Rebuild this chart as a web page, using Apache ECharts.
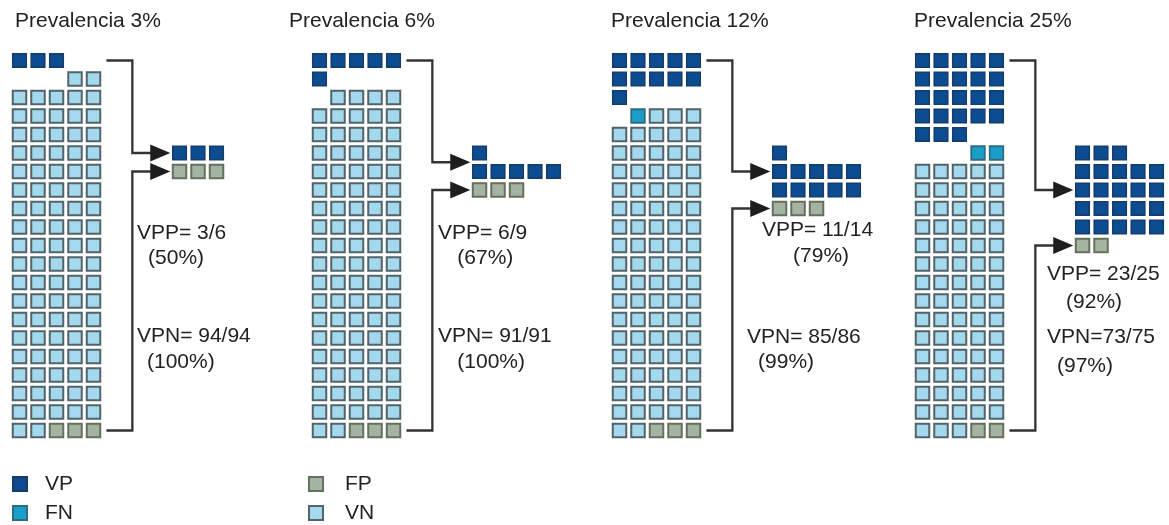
<!DOCTYPE html>
<html><head><meta charset="utf-8">
<script src="https://cdn.jsdelivr.net/npm/echarts@6/dist/echarts.min.js"></script>
<style>html,body{margin:0;padding:0;background:#fff}#c{width:1169px;height:525px}</style>
</head><body><div id="c"></div>
<script>
// ---- data ----
const categories = ['Prevalencia 3%', 'Prevalencia 6%', 'Prevalencia 12%', 'Prevalencia 25%'];
const vp = [3, 6, 11, 23];   // verdaderos positivos
const fn = [0, 0, 1, 2];     // falsos negativos
const fp = [3, 3, 3, 2];     // falsos positivos
const vn = [94, 91, 85, 73]; // verdaderos negativos
const vppLabels = ['VPP= 3/6', 'VPP= 6/9', 'VPP= 11/14', 'VPP= 23/25'];
const vppPct = ['(50%)', '(67%)', '(79%)', '(92%)'];
const vpnLabels = ['VPN= 94/94', 'VPN= 91/91', 'VPN= 85/86', 'VPN=73/75'];
const vpnPct = ['(100%)', '(100%)', '(99%)', '(97%)'];
const legendNames = ['VP', 'FN', 'FP', 'VN'];

// ---- layout / style ----
const PITCH = 18.5;
const COL0 = [19.5, 319.5, 619.5, 922.5];
const ROW0 = 60.5;
const GX = 8.65, GROUP_ROW0 = 5;
const X_START = 4.7, X_VERT = 6.1, X_TIP = 8.15;
const TITLE_LEFT = [15, 289, 611, 914];
const TEXT_POS = [
  [[6.35, 9.32], [6.95, 10.68], [6.35, 14.9], [6.89, 16.3]],
  [[6.4, 9.32], [7.45, 10.7], [6.4, 14.9], [7.45, 16.3]],
  [[7.7, 9.16], [9.38, 10.57], [6.89, 14.95], [7.49, 16.3]],
  [[6.73, 11.54], [7.76, 13.05], [6.73, 14.95], [7.27, 16.51]]
];
const STYLE = {
  VP: {color: '#0c4d92', borderColor: '#163c6c', borderWidth: 1.6, opacity: 1},
  FN: {color: '#1a9fca', borderColor: '#2c6b82', borderWidth: 1.8, opacity: 1},
  FP: {color: '#a5b4a2', borderColor: '#65705f', borderWidth: 2, opacity: 1},
  VN: {color: '#a3d8ed', borderColor: '#52636a', borderWidth: 2, opacity: 1}
};
const FONT = '"Liberation Sans", Arial, sans-serif';
const TXT = '#222';

const grids = [], xAxes = [], yAxes = [], series = [], titles = [];
categories.forEach((cat, i) => {
  grids.push({left: COL0[i] - PITCH / 2, top: ROW0 - PITCH / 2, width: 13.5 * PITCH, height: 25 * PITCH});
  xAxes.push({type: 'value', gridIndex: i, min: -0.5, max: 13, show: false});
  yAxes.push({type: 'value', gridIndex: i, min: -0.5, max: 24.5, inverse: true, show: false});
  titles.push({text: cat, left: TITLE_LEFT[i], top: 11, padding: 0,
    textStyle: {fontFamily: FONT, fontSize: 21, fontWeight: 'normal', color: TXT}});

  const cells = {VP: [], FN: [], FP: [], VN: []};
  const total = vp[i] + fn[i] + vn[i] + fp[i];
  for (let k = 0; k < total; k++) {
    const c = k < vp[i] ? 'VP' : k < vp[i] + fn[i] ? 'FN' : k < vp[i] + fn[i] + vn[i] ? 'VN' : 'FP';
    cells[c].push([k % 5, Math.floor(k / 5) + (k >= vp[i] ? 1 : 0)]);
  }
  const lastRow = Math.floor((total - 1) / 5) + 1;
  // grouped positives on the right
  let r = GROUP_ROW0;
  const rem = vp[i] % 5, full = Math.floor(vp[i] / 5);
  if (rem) { for (let j = 0; j < rem; j++) cells.VP.push([GX + j, r]); r++; }
  for (let f = 0; f < full; f++) { for (let j = 0; j < 5; j++) cells.VP.push([GX + j, r]); r++; }
  const vpCenter = (GROUP_ROW0 + r - 1) / 2;
  const fpRow = r;
  for (let j = 0; j < fp[i]; j++) cells.FP.push([GX + j, fpRow]);

  legendNames.forEach(name => {
    series.push({type: 'scatter', name, xAxisIndex: i, yAxisIndex: i, symbol: 'rect', symbolSize: 13.5,
      data: cells[name], itemStyle: STYLE[name], silent: true, animation: false, z: 3});
  });

  // connectors with arrows
  series.push({type: 'custom', xAxisIndex: i, yAxisIndex: i, silent: true, animation: false, clip: false, z: 2,
    data: [[0, vpCenter], [lastRow, fpRow]],
    renderItem: (params, api) => {
      const a = api.value(0), b = api.value(1);
      const p0 = api.coord([X_START, a]), p1 = api.coord([X_VERT, a]);
      const p2 = api.coord([X_VERT, b]), p3 = api.coord([X_TIP, b]);
      const L = 20, H = 8.5;
      return {type: 'group', children: [
        {type: 'polyline', shape: {points: [p0, p1, p2, [p3[0] - L + 1, p3[1]]]},
          style: {stroke: '#333', lineWidth: 2.3, fill: null}},
        {type: 'polygon', shape: {points: [[p3[0], p3[1]], [p3[0] - L, p3[1] - H], [p3[0] - L, p3[1] + H]]},
          style: {fill: '#1e1e1e'}}
      ]};
    }
  });

  // annotation texts
  const texts = [vppLabels[i], vppPct[i], vpnLabels[i], vpnPct[i]];
  series.push({type: 'custom', xAxisIndex: i, yAxisIndex: i, silent: true, animation: false, clip: false, z: 4,
    data: TEXT_POS[i].map((p, k) => [p[0], p[1], k]),
    renderItem: (params, api) => {
      const p = api.coord([api.value(0), api.value(1)]);
      return {type: 'text', x: p[0], y: p[1],
        style: {text: texts[api.value(2)], font: '21px ' + FONT, fill: TXT, verticalAlign: 'middle', align: 'left'}};
    }
  });
});

const chart = echarts.init(document.getElementById('c'), null, {renderer: 'canvas'});
chart.setOption({
  backgroundColor: '#fff',
  animation: false,
  title: titles,
  grid: grids, xAxis: xAxes, yAxis: yAxes,
  legend: [
    {data: ['VP', 'FN'], left: 12, top: 473, orient: 'vertical', padding: 0, itemGap: 7, itemWidth: 14, itemHeight: 14,
      icon: 'rect', selectedMode: false,
      textStyle: {fontFamily: FONT, fontSize: 21, color: TXT, lineHeight: 22, padding: [0, 0, 0, 13]}},
    {data: ['FP', 'VN'], left: 308, top: 473, orient: 'vertical', padding: 0, itemGap: 7, itemWidth: 14, itemHeight: 14,
      icon: 'rect', selectedMode: false,
      textStyle: {fontFamily: FONT, fontSize: 21, color: TXT, lineHeight: 22, padding: [0, 0, 0, 17]}}
  ],
  series
});
</script></body></html>
